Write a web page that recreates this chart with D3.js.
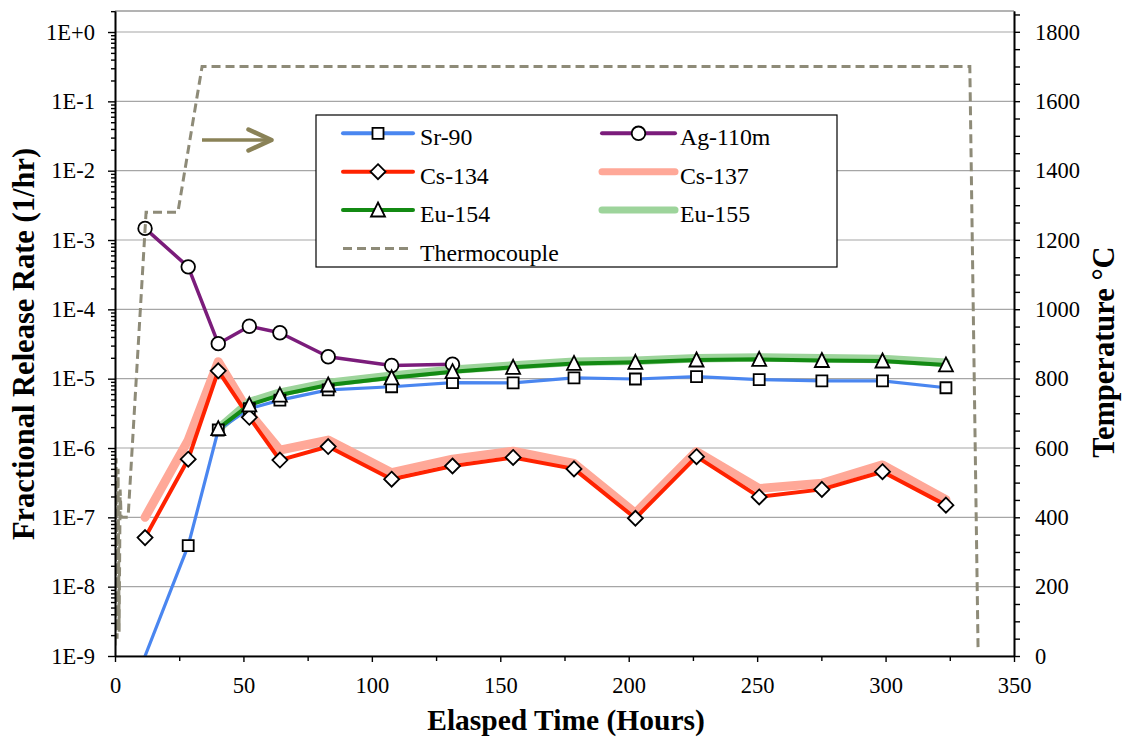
<!DOCTYPE html>
<html><head><meta charset="utf-8">
<script src="https://cdn.jsdelivr.net/npm/d3@7"></script>
<style>
body{margin:0;background:#fff}
</style>
</head><body>
<svg id="chart" width="1124" height="738"></svg>
<script>
// ---------- data ----------
const hours   = [11.7, 28.5, 40.2, 52.3, 64.2, 83.0, 107.7, 131.4, 155.0, 178.7, 202.6, 226.4, 250.8, 275.2, 298.8, 323.5];
const sr90    = [1.0e-9, 3.9e-8, 1.82e-6, 3.7e-6, 4.9e-6, 6.9e-6, 7.65e-6, 8.75e-6, 8.7e-6, 1.03e-5, 9.9e-6, 1.07e-5, 9.7e-6, 9.3e-6, 9.3e-6, 7.4e-6];
const ag110m  = [1.47e-3, 4.1e-4, 3.2e-5, 5.7e-5, 4.6e-5, 2.07e-5, 1.55e-5, 1.62e-5, null, null, null, null, null, null, null, null];
const cs134   = [5.1e-8, 6.9e-7, 1.3e-5, 2.77e-6, 6.7e-7, 1.05e-6, 3.55e-7, 5.5e-7, 7.3e-7, 5.0e-7, 9.7e-8, 7.5e-7, 1.97e-7, 2.53e-7, 4.55e-7, 1.5e-7];
const cs137   = [1.0e-7, 1.3e-6, 1.76e-5, 3.2e-6, 9.3e-7, 1.3e-6, 4.4e-7, 6.9e-7, 9.0e-7, 6.0e-7, 1.15e-7, 8.9e-7, 2.6e-7, 3.1e-7, 5.7e-7, 1.8e-7];
const eu154   = [null, null, 1.9e-6, 4.2e-6, 5.8e-6, 8.1e-6, 1.03e-5, 1.26e-5, 1.46e-5, 1.66e-5, 1.72e-5, 1.86e-5, 1.9e-5, 1.83e-5, 1.8e-5, 1.58e-5];
const eu155   = [null, null, 1.9e-6, 4.6e-6, 6.3e-6, 8.7e-6, 1.1e-5, 1.35e-5, 1.55e-5, 1.75e-5, 1.82e-5, 1.97e-5, 2.02e-5, 1.97e-5, 1.92e-5, 1.7e-5];

const tcHours = [0, 0.4, 0.8, 1.2, 1.6, 2.0, 2.4, 5.1, 12.1, 24.5, 33.9, 332.8, 336.0];
const tcTemp  = [30, 570, 50, 540, 70, 480, 400, 400, 1280, 1280, 1700, 1700, 25];

const xTickValues = [0, 50, 100, 150, 200, 250, 300, 350];
const xMinorTicks = [25, 75, 125, 175, 225, 275, 325];
const yTickValues = [1e-9, 1e-8, 1e-7, 1e-6, 1e-5, 1e-4, 1e-3, 1e-2, 1e-1, 1e0];
const yTickLabels = ["1E-9", "1E-8", "1E-7", "1E-6", "1E-5", "1E-4", "1E-3", "1E-2", "1E-1", "1E+0"];
const tTickValues = [0, 200, 400, 600, 800, 1000, 1200, 1400, 1600, 1800];

const legendNames = ["Sr-90", "Ag-110m", "Cs-134", "Cs-137", "Eu-154", "Eu-155", "Thermocouple"];

// ---------- layout ----------
const FONT = "Liberation Serif";
const L = 115, R = 1014, T = 11, B = 656;
const svg = d3.select("#chart");
const x = d3.scaleLinear().domain([0, 350]).range([L, R]);
const y = d3.scaleLog().domain([1e-9, 2.01]).range([B, T]);
const yT = d3.scaleLinear().domain([0, 1860]).range([B, T]);

svg.append("defs").append("clipPath").attr("id", "clip")
  .append("rect").attr("x", L).attr("y", T).attr("width", R - L).attr("height", B - T);

// gridlines
svg.append("g").selectAll("line").data(yTickValues).join("line")
  .attr("x1", L).attr("x2", R).attr("y1", d => y(d)).attr("y2", d => y(d))
  .attr("stroke", "#a6a6a6").attr("stroke-width", 1.2);
svg.append("line").attr("x1", L).attr("x2", R).attr("y1", T).attr("y2", T)
  .attr("stroke", "#9a9a9a").attr("stroke-width", 1.5);

// ---------- series ----------
const series = [
  {name: "Cs-137", vals: cs137, color: "#ffa898", width: 9, marker: null},
  {name: "Eu-155", vals: eu155, color: "#9dd49b", width: 8.5, marker: null},
  {name: "Sr-90", vals: sr90, color: "#4a86f0", width: 3.2, marker: "square"},
  {name: "Ag-110m", vals: ag110m, color: "#7b1c7b", width: 3.5, marker: "circle"},
  {name: "Cs-134", vals: cs134, color: "#ff2200", width: 4, marker: "diamond"},
  {name: "Eu-154", vals: eu154, color: "#138a13", width: 4, marker: "triangle"}
];
const markerPath = {
  square: "M-5.5,-5.5H5.5V5.5H-5.5Z",
  circle: "",
  diamond: "M0,-7.5L7.5,0L0,7.5L-7.5,0Z",
  triangle: "M0,-7.5L7,6.5L-7,6.5Z"
};
(function(){ const p = d3.path(); p.arc(0, 0, 6.8, 0, 2 * Math.PI); p.closePath(); markerPath.circle = p.toString(); })();

const plot = svg.append("g").attr("clip-path", "url(#clip)");
const line = d3.line()
  .defined(d => d.v != null)
  .x(d => x(d.t)).y(d => y(d.v));

series.forEach(s => {
  s.pts = hours.map((t, i) => ({t, v: s.vals[i]}));
  plot.append("path").datum(s.pts).attr("d", line)
    .attr("fill", "none").attr("stroke", s.color).attr("stroke-width", s.width)
    .attr("stroke-linejoin", "round").attr("stroke-linecap", "round");
});
series.filter(s => s.marker).forEach(s => {
  plot.append("g").selectAll("path").data(s.pts.filter(d => d.v != null && d.v > 1e-9)).join("path")
    .attr("transform", d => `translate(${x(d.t)},${y(d.v)})`)
    .attr("d", markerPath[s.marker])
    .attr("fill", "#fff").attr("stroke", "#000").attr("stroke-width", 1.8);
});

// thermocouple (secondary axis)
const tcPts = tcHours.map((t, i) => ({t, v: tcTemp[i]}));
plot.append("path").datum(tcPts)
  .attr("d", d3.line().x(d => x(d.t)).y(d => yT(d.v)))
  .attr("fill", "none").attr("stroke", "#8e8b78").attr("stroke-width", 3)
  .attr("stroke-dasharray", "9,5");

// arrow
const arrowColor = "#8a8257";
svg.append("line").attr("x1", 202).attr("x2", 271).attr("y1", 140).attr("y2", 140)
  .attr("stroke", arrowColor).attr("stroke-width", 3.5);
svg.append("path").attr("d", "M248.5,129.5L271.5,140L248.5,150.5")
  .attr("fill", "none").attr("stroke", arrowColor).attr("stroke-width", 4.5)
  .attr("stroke-linecap", "round").attr("stroke-linejoin", "round");

// ---------- axes ----------
function styleAxis(g) {
  g.attr("font-family", null).attr("font-size", null);
  g.selectAll(".domain").attr("stroke", "#000").attr("stroke-width", 1.6);
  g.selectAll(".tick line").attr("stroke", "#000").attr("stroke-width", 1.4);
  g.selectAll("text").style("font-family", FONT).style("font-size", "22.5px").attr("fill", "#000");
}
// left
const minorLog = [];
for (let e = -9; e <= 0; e++) for (let k = 2; k <= 9; k++) { const v = k * Math.pow(10, e); if (v <= 2.01) minorLog.push(v); }
svg.append("g").attr("transform", `translate(${L},0)`)
  .call(d3.axisLeft(y).tickValues(minorLog).tickSize(4).tickSizeOuter(0).tickFormat(""))
  .call(styleAxis);
svg.append("g").attr("transform", `translate(${L},0)`)
  .call(d3.axisLeft(y).tickValues(yTickValues).tickSize(7).tickSizeOuter(0).tickPadding(13)
    .tickFormat((d, i) => yTickLabels[i]))
  .call(styleAxis);
// bottom
svg.append("g").attr("transform", `translate(0,${B})`)
  .call(d3.axisBottom(x).tickValues(xMinorTicks).tickSize(5).tickSizeOuter(0).tickFormat(""))
  .call(styleAxis);
svg.append("g").attr("transform", `translate(0,${B})`)
  .call(d3.axisBottom(x).tickValues(xTickValues).tickSize(6).tickSizeOuter(0).tickPadding(15)
    .tickFormat(d3.format("d")))
  .call(styleAxis);
// right
const tMinor = d3.range(50, 1860, 50).filter(v => v % 200 !== 0);
svg.append("g").attr("transform", `translate(${R},0)`)
  .call(d3.axisRight(yT).tickValues(tMinor).tickSize(6).tickSizeOuter(0).tickFormat(""))
  .call(styleAxis);
svg.append("g").attr("transform", `translate(${R},0)`)
  .call(d3.axisRight(yT).tickValues(tTickValues).tickSize(6).tickSizeOuter(0).tickPadding(15)
    .tickFormat(d3.format("d")))
  .call(styleAxis);

// titles
svg.append("text").attr("x", 566).attr("y", 730).attr("text-anchor", "middle")
  .style("font-size", "29.5px").attr("font-weight", "bold").text("Elasped Time (Hours)");
svg.append("text").attr("transform", "translate(34,344) rotate(-90)").attr("text-anchor", "middle")
  .style("font-size", "30.5px").attr("font-weight", "bold").text("Fractional Release Rate (1/hr)");
svg.append("text").attr("transform", "translate(1114,352) rotate(-90)").attr("text-anchor", "middle")
  .style("font-size", "30.5px").attr("font-weight", "bold").text("Temperature °C");

// ---------- legend ----------
const lg = svg.append("g");
lg.append("rect").attr("x", 316).attr("y", 115).attr("width", 521).attr("height", 152)
  .attr("fill", "#fff").attr("stroke", "#000").attr("stroke-width", 1.2);
const rowsY = [133.3, 171.7, 210, 248.5];
const cols = [{x1: 343, x2: 413, tx: 420}, {x1: 602, x2: 675, tx: 680}];
const legendStyle = {
  "Sr-90": series[2], "Ag-110m": series[3], "Cs-134": series[4],
  "Cs-137": series[0], "Eu-154": series[5], "Eu-155": series[1]
};
legendNames.forEach((name, i) => {
  const row = Math.floor(i / 2), col = cols[i % 2];
  const cy = rowsY[row];
  const g = lg.append("g");
  if (name === "Thermocouple") {
    g.append("line").attr("x1", col.x1).attr("x2", col.x2).attr("y1", cy).attr("y2", cy)
      .attr("stroke", "#8e8b78").attr("stroke-width", 3).attr("stroke-dasharray", "9,5");
  } else {
    const s = legendStyle[name];
    g.append("line").attr("x1", col.x1).attr("x2", col.x2).attr("y1", cy).attr("y2", cy)
      .attr("stroke", s.color).attr("stroke-width", s.marker ? 4 : 7).attr("stroke-linecap", "round");
    if (s.marker) {
      g.append("path").attr("transform", `translate(${(col.x1 + col.x2) / 2},${cy})`)
        .attr("d", markerPath[s.marker]).attr("fill", "#fff").attr("stroke", "#000").attr("stroke-width", 1.8);
    }
  }
  g.append("text").attr("x", col.tx).attr("y", cy + 12).style("font-size", "23.8px").text(name);
});

svg.selectAll("text").style("font-family", FONT).attr("fill", "#000");
</script>
</body></html>
